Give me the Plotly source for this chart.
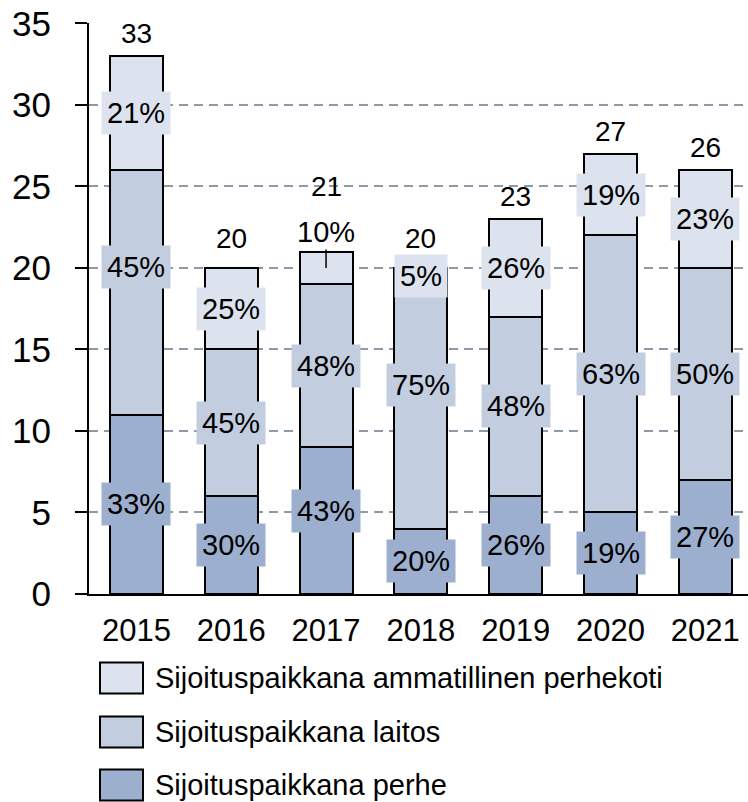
import plotly.graph_objects as go

years = ["2015", "2016", "2017", "2018", "2019", "2020", "2021"]
perhe = [11, 6, 9, 4, 6, 5, 7]
laitos = [15, 9, 10, 15, 11, 17, 13]
ammatillinen = [7, 5, 2, 1, 6, 5, 6]
totals = [33, 20, 21, 20, 23, 27, 26]
pct_perhe = ["33%", "30%", "43%", "20%", "26%", "19%", "27%"]
pct_laitos = ["45%", "45%", "48%", "75%", "48%", "63%", "50%"]
pct_amm = ["21%", "25%", "10%", "5%", "26%", "19%", "23%"]
names = ["Sijoituspaikkana perhe", "Sijoituspaikkana laitos",
         "Sijoituspaikkana ammatillinen perhekoti"]

# label nudges (pixels) to mimic the original placement
shift_perhe = [0, 0, 10, 0, 0, 0, 0]
shift_laitos = [25, 0, 0, 21, 0, 0, 0]
shift_total = [5, 12, 48, 12, 5, 5, 5]

colors = ["#9dafce", "#c3cde0", "#dde3ee"]
FONT = "Liberation Sans, Arial, sans-serif"

W, H = 748, 802
L, R, T, B = 89, 0, 23, 208
PW, PH = W - L - R, H - T - B

xpos = list(range(len(years)))

fig = go.Figure()
series = [perhe, laitos, ammatillinen]
for vals, name, col in zip(series, names, colors):
    fig.add_trace(go.Bar(
        x=xpos, y=vals, name=name, marker=dict(color=col, line=dict(color="black", width=2)),
        width=0.56, showlegend=False, hovertext=years, hoverinfo="text+y+name"))

ann = []
for i, yr in enumerate(years):
    base = 0
    segs = [(perhe[i], pct_perhe[i], colors[0], shift_perhe[i], False),
            (laitos[i], pct_laitos[i], colors[1], shift_laitos[i], False),
            (ammatillinen[i], pct_amm[i], colors[2], 0, yr == "2017")]
    for v, txt, col, sh, outside in segs:
        center = base + v / 2
        if outside:
            ann.append(dict(x=i, y=center, text=txt, showarrow=True, arrowhead=0,
                            arrowwidth=1.5, arrowcolor="black", ax=0, ay=-36,
                            font=dict(size=29, color="black", family=FONT)))
        else:
            ann.append(dict(x=i, y=center, text=txt, showarrow=False, yshift=sh,
                            bgcolor=col, borderpad=5,
                            font=dict(size=29, color="black", family=FONT)))
        base += v
    ann.append(dict(x=i, y=totals[i], text=str(totals[i]), showarrow=False,
                    yanchor="bottom", yshift=shift_total[i],
                    font=dict(size=28, color="black", family=FONT)))

# custom legend (top entry first)
shapes = []
rows = [678, 732, 785]
for row_y, name, col in zip(rows, names[::-1], colors[::-1]):
    x0 = (100 - L) / PW
    x1 = (143 - L) / PW
    y0 = (H - B - (row_y + 15.5)) / PH
    y1 = (H - B - (row_y - 15.5)) / PH
    shapes.append(dict(type="rect", xref="paper", yref="paper", x0=x0, x1=x1, y0=y0, y1=y1,
                       fillcolor=col, line=dict(color="black", width=2)))
    ann.append(dict(xref="paper", yref="paper", x=(153 - L) / PW, y=(H - B - row_y) / PH,
                    xanchor="left", yanchor="middle", text=name, showarrow=False,
                    font=dict(size=29, color="black", family=FONT)))

fig.update_layout(
    width=W, height=H, margin=dict(l=L, r=R, t=T, b=B),
    barmode="stack", plot_bgcolor="white", paper_bgcolor="white",
    font=dict(family=FONT, color="black"),
    annotations=ann, shapes=shapes, showlegend=False,
    xaxis=dict(range=[-0.5, 6.45], showgrid=False, zeroline=False,
               tickvals=xpos, ticktext=years,
               showline=True, linecolor="black", linewidth=2,
               ticks="", tickfont=dict(size=31, color="black", family=FONT),
               ticklabelstandoff=8),
    yaxis=dict(range=[0, 35.02], tickvals=[0, 5, 10, 15, 20, 25, 30, 35],
               showgrid=True, gridcolor="#8d9aaa", gridwidth=1.5, griddash="9px,6px",
               showline=True, linecolor="black", linewidth=2,
               ticks="outside", ticklen=12, tickwidth=2, tickcolor="black",
               tickfont=dict(size=35, color="black", family=FONT),
               ticklabelstandoff=17, zeroline=False),
)

fig.write_html("out.html", config={"displayModeBar": False},
               post_script="document.body.style.margin='0px';")
